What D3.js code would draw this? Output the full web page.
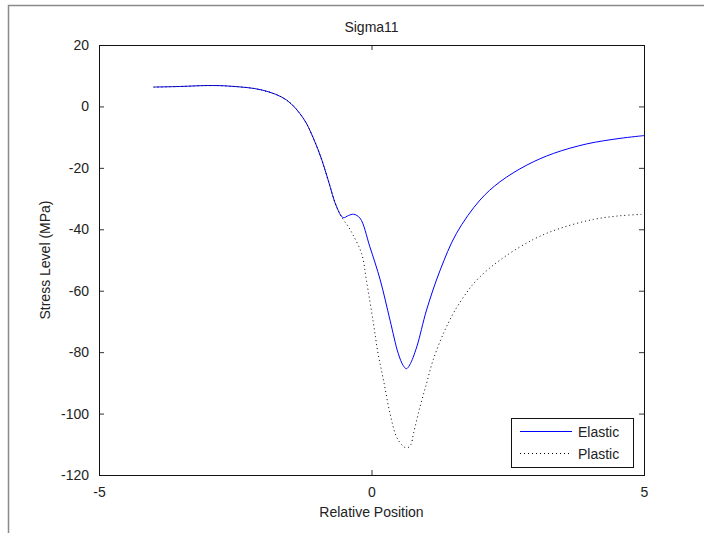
<!DOCTYPE html>
<html>
<head>
<meta charset="utf-8">
<script src="https://cdn.jsdelivr.net/npm/d3@7"></script>
<style>
  body { margin: 0; background: #fff; }
  text { font-family: 'Liberation Sans', Arial, sans-serif; fill: #222; }
</style>
</head>
<body>
<div id="chart"></div>
<script>
// Sigma11 readings (relative position vs stress level, MPa)
var elasticX = [-4, -3.5, -3, -2.6, -2, -1.56, -1.25, -1.07, -0.91, -0.79, -0.64, -0.52, -0.42, -0.33, -0.21, -0.03, 0.16, 0.34, 0.49, 0.58, 0.64, 0.7, 0.83, 1.01, 1.26, 1.56, 1.99, 2.36, 2.85, 3.34, 3.95, 4.56, 5]
var elasticY = [6.3, 6.5, 6.8, 6.6, 5.3, 2.1, -3.9, -10.2, -17.5, -24.3, -32.7, -36.2, -35.5, -35.1, -36.4, -45.7, -56.5, -69.6, -80.4, -84.3, -85.4, -84.2, -78.3, -66.3, -53.3, -41.3, -30.5, -24.5, -19.1, -15.3, -12.2, -10.4, -9.5]

var plasticX = [-4, -3.5, -3, -2.6, -2, -1.56, -1.25, -1.07, -0.91, -0.79, -0.64, -0.52, -0.43, -0.34, -0.18, -0.09, 0.03, 0.12, 0.22, 0.34, 0.46, 0.58, 0.65, 0.72, 0.77, 0.89, 1.01, 1.13, 1.32, 1.5, 1.75, 1.96, 2.36, 2.97, 3.46, 4.07, 4.56, 5]
var plasticY = [6.3, 6.5, 6.8, 6.6, 5.3, 2.1, -3.9, -10.2, -17.5, -24.3, -32.7, -36.8, -39, -41.8, -48, -57, -70, -80.4, -89.1, -100, -107.6, -110.6, -111.2, -110.2, -106.5, -97.8, -90.2, -82.6, -73.9, -67.4, -60.5, -56, -50, -43.3, -39.7, -36.8, -35.6, -35.1]

var xTicks = [-5, 0, 5]
var yTicks = [-120, -100, -80, -60, -40, -20, 0, 20]
var seriesNames = ['Elastic', 'Plastic']
var seriesColors = ['#0000ff', '#000000']
var seriesDash = ['none', '1,3']

var W = 704
var H = 533
var margin = { top: 45, left: 99, right: 60, bottom: 58 }
var width = W - margin.left - margin.right
var height = H - margin.top - margin.bottom

var root = d3.select('#chart')
  .append('svg')
  .attr('width', W)
  .attr('height', H)

// outer figure frame (only top and left edges visible)
root.append('path')
  .attr('d', `M8.5,${H} V5.5 H${W}`)
  .attr('fill', 'none')
  .attr('stroke', '#8a8a8a')
  .attr('stroke-width', 1.5)

var svg = root.append('g')
  .attr('transform', `translate(${margin.left},${margin.top})`)

var x = d3.scaleLinear().domain([-5, 5]).range([0, width])
var y = d3.scaleLinear().domain([-120, 20]).range([height, 0])

var line = d3.line()
  .x(d => x(d[0]))
  .y(d => y(d[1]))
  .curve(d3.curveCatmullRom.alpha(0.5))

var elastic = elasticX.map((v, i) => [v, elasticY[i]])
var plastic = plasticX.map((v, i) => [v, plasticY[i]])

svg.append('path')
  .datum(elastic)
  .attr('d', line)
  .attr('fill', 'none')
  .attr('stroke', seriesColors[0])
  .attr('stroke-width', 1)

svg.append('path')
  .datum(plastic)
  .attr('d', line)
  .attr('fill', 'none')
  .attr('stroke', seriesColors[1])
  .attr('stroke-width', 1)
  .attr('stroke-dasharray', seriesDash[1])

// axes box with inward ticks on all four sides
var fmt = d => String(d)
function styleAxis(g) {
  g.select('.domain').remove()
  g.selectAll('.tick line').attr('stroke', '#333')
  g.selectAll('.tick text')
    .attr('font-size', 14)
    .attr('fill', '#222')
    .style('font-family', "'Liberation Sans', Arial, sans-serif")
}

svg.append('g')
  .attr('transform', `translate(0,${height})`)
  .call(d3.axisBottom(x).tickValues(xTicks).tickFormat(fmt).tickSizeInner(-5).tickSizeOuter(0).tickPadding(12))
  .call(styleAxis)

svg.append('g')
  .call(d3.axisTop(x).tickValues(xTicks).tickSizeInner(-5).tickSizeOuter(0).tickFormat(''))
  .call(styleAxis)

svg.append('g')
  .call(d3.axisLeft(y).tickValues(yTicks).tickFormat(fmt).tickSizeInner(-5).tickSizeOuter(0).tickPadding(10))
  .call(styleAxis)

svg.append('g')
  .attr('transform', `translate(${width},0)`)
  .call(d3.axisRight(y).tickValues(yTicks).tickSizeInner(-5).tickSizeOuter(0).tickFormat(''))
  .call(styleAxis)

svg.append('rect')
  .attr('x', 0.5)
  .attr('y', 0.5)
  .attr('width', width)
  .attr('height', height)
  .attr('fill', 'none')
  .attr('stroke', '#111')
  .attr('stroke-width', 1)

// titles
svg.append('text')
  .attr('x', width / 2)
  .attr('y', -13)
  .attr('text-anchor', 'middle')
  .attr('font-size', 14)
  .text('Sigma11')

svg.append('text')
  .attr('x', width / 2)
  .attr('y', height + 42)
  .attr('text-anchor', 'middle')
  .attr('font-size', 14)
  .text('Relative Position')

svg.append('text')
  .attr('transform', `translate(-49,${height / 2}) rotate(-90)`)
  .attr('text-anchor', 'middle')
  .attr('font-size', 14)
  .text('Stress Level (MPa)')

// legend
var legend = svg.append('g')
  .attr('transform', `translate(${width - 133},${height - 57})`)

legend.append('rect')
  .attr('x', 0.5)
  .attr('y', 0.5)
  .attr('width', 122)
  .attr('height', 49)
  .attr('fill', '#fff')
  .attr('stroke', '#111')

var items = legend.selectAll('g.item')
  .data(seriesNames)
  .enter()
  .append('g')
  .attr('class', 'item')
  .attr('transform', (d, i) => `translate(0,${13.5 + i * 22})`)

items.append('line')
  .attr('x1', 9)
  .attr('x2', 61)
  .attr('y1', 0)
  .attr('y2', 0)
  .style('stroke', (d, i) => seriesColors[i])
  .style('stroke-width', 1.2)
  .style('stroke-dasharray', (d, i) => seriesDash[i])

items.append('text')
  .attr('x', 67)
  .attr('dy', 5)
  .attr('font-size', 14)
  .text(d => d)
</script>
</body>
</html>
